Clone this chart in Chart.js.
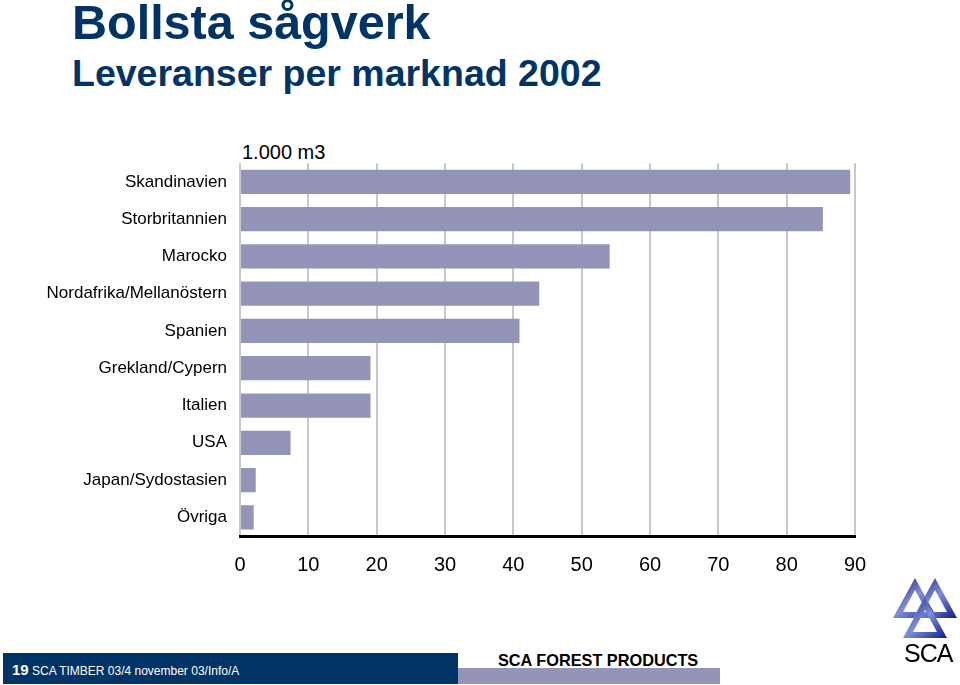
<!DOCTYPE html>
<html>
<head>
<meta charset="utf-8">
<script src="https://cdn.jsdelivr.net/npm/chart.js@4"></script>
<style>
  body { margin: 0; background: #fff; font-family: "Liberation Sans", Arial, sans-serif; }
  #page { position: relative; width: 960px; height: 685px; overflow: hidden; }
  .abs { position: absolute; white-space: nowrap; }
  #title { left: 72px; top: -6px; font-size: 48.5px; font-weight: bold; color: #003366; }
  #subtitle { left: 72px; top: 52px; font-size: 37.5px; font-weight: bold; color: #003366; }
  #unit { left: 242px; top: 141px; font-size: 20px; color: #000; }
  #chartBox { left: 0; top: 140px; width: 900px; height: 450px; }
  #navy { left: 3px; top: 653px; width: 455px; height: 31px; background: #003366; }
  #lav { left: 458px; top: 668px; width: 262px; height: 16px; background: #9494b8; }
  #foot { left: 12px; top: 661px; font-size: 12px; color: #fff; }
  #foot b { font-size: 15px; }
  #brand { left: 498px; top: 651px; font-size: 16.3px; font-weight: bold; color: #000; }
  #sca { left: 904px; top: 639px; font-size: 25px; color: #000; letter-spacing: -1px; }
</style>
</head>
<body>
<div id="page">
  <div id="title" class="abs">Bollsta sågverk</div>
  <div id="subtitle" class="abs">Leveranser per marknad 2002</div>
  <div id="unit" class="abs">1.000 m3</div>
  <div id="chartBox" class="abs"><canvas id="myChart" width="900" height="450"></canvas></div>
  <div id="navy" class="abs"></div>
  <div id="lav" class="abs"></div>
  <div id="foot" class="abs"><b>19</b> SCA TIMBER 03/4 november 03/Info/A</div>
  <div id="brand" class="abs">SCA FOREST PRODUCTS</div>
  <svg class="abs" style="left:893px;top:576px" width="66" height="66" viewBox="0 0 66 66">
    <defs>
      <linearGradient id="g" x1="0" y1="0" x2="1" y2="1">
        <stop offset="0" stop-color="#10107e"/>
        <stop offset="0.5" stop-color="#7f90d8"/>
        <stop offset="1" stop-color="#101c86"/>
      </linearGradient>
    </defs>
    <path d="M22 2 L44 42 L0 42 Z M22 14 L10 36 L34 36 Z" fill="url(#g)" fill-rule="evenodd"/>
    <path d="M42 2 L64 42 L20 42 Z M42 14 L30 36 L54 36 Z" fill="url(#g)" fill-rule="evenodd"/>
    <path d="M32 22 L54 62 L10 62 Z M32 34 L20 56 L44 56 Z" fill="url(#g)" fill-rule="evenodd"/>
  </svg>
  <div id="sca" class="abs">SCA</div>
</div>
<script>
const markets = ["Skandinavien", "Storbritannien", "Marocko", "Nordafrika/Mellanöstern", "Spanien",
                 "Grekland/Cypern", "Italien", "USA", "Japan/Sydostasien", "Övriga"];
const volumes = [89.3, 85.3, 54.1, 43.8, 40.9, 19.1, 19.1, 7.4, 2.3, 2.0];
const xTicks = [0, 10, 20, 30, 40, 50, 60, 70, 80, 90];

const barChart = () => {
  const family = '"Liberation Sans", Arial, sans-serif';

  const data = {
    labels: markets,
    datasets: [
      {
        data: volumes,
        backgroundColor: "#9494b8",
        borderWidth: 0,
        categoryPercentage: 0.65,
        barPercentage: 1,
      },
    ],
  };

  const config = {
    type: "bar",
    data: data,
    options: {
      indexAxis: "y",
      responsive: false,
      animation: false,
      layout: { padding: { top: 23, right: 45, left: 0, bottom: 0 } },
      plugins: { legend: { display: false }, tooltip: { enabled: false } },
      scales: {
        x: {
          min: xTicks[0],
          max: xTicks[xTicks.length - 1],
          afterBuildTicks: (scale) => { scale.ticks = xTicks.map(v => ({ value: v })); },
          afterFit: (scale) => { scale.height = 54; },
          grid: { color: "#c8c8c8", lineWidth: 2, drawTicks: false },
          border: { color: "#000", width: 3 },
          ticks: { color: "#000", font: { family: family, size: 20 }, padding: 17, maxRotation: 0 },
        },
        y: {
          afterFit: (scale) => { scale.width = 240; },
          grid: { display: false, drawTicks: false },
          border: { display: false },
          ticks: { color: "#000", font: { family: family, size: 17 }, padding: 13 },
        },
      },
    },
  };

  var ctx = document.getElementById("myChart").getContext("2d");
  new Chart(ctx, config);
};

barChart();
</script>
</body>
</html>
